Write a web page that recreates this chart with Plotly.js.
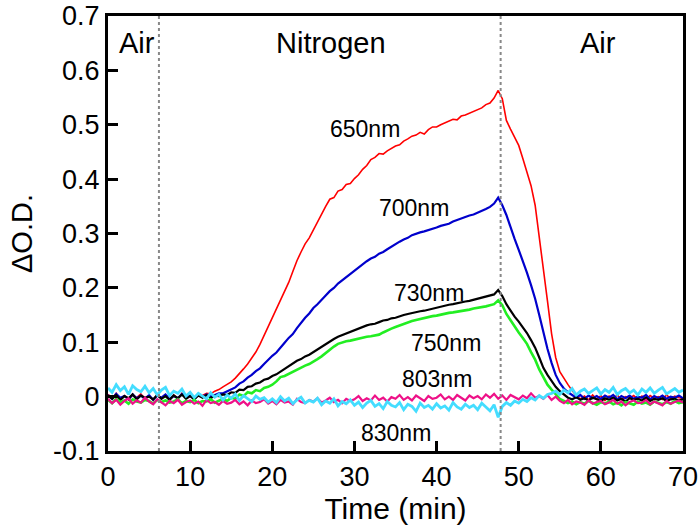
<!DOCTYPE html>
<html>
<head>
<meta charset="utf-8">
<script src="https://cdn.plot.ly/plotly-3.0.1.min.js"></script>
<style>html,body{margin:0;padding:0;background:#fff;}#chart{width:700px;height:531px;}</style>
</head>
<body>
<div id="chart"></div>
<script>
// Time axis (min)
const time = [
 0,0.5,1,1.5,2,2.5,3,3.5,4,4.5,
 5,5.5,6,6.5,7,7.5,8,8.5,9,9.5,
 10,10.5,11,11.5,12,12.5,13,13.5,14,14.5,
 15,15.5,16,16.5,17,17.5,18,18.5,19,19.5,
 20,20.5,21,21.5,22,22.5,23,23.5,24,24.5,
 25,25.5,26,26.5,27,27.5,28,28.5,29,29.5,
 30,30.5,31,31.5,32,32.5,33,33.5,34,34.5,
 35,35.5,36,36.5,37,37.5,38,38.5,39,39.5,
 40,40.5,41,41.5,42,42.5,43,43.5,44,44.5,
 45,45.5,46,46.5,47,47.5,48,48.5,49,49.5,
 50,50.5,51,51.5,52,52.5,53,53.5,54,54.5,
 55,55.5,56,56.5,57,57.5,58,58.5,59,59.5,
 60,60.5,61,61.5,62,62.5,63,63.5,64,64.5,
 65,65.5,66,66.5,67,67.5,68,68.5,69,69.5,
 70];

const od650 = [
 0.004,-0.003,0.006,-0.005,0.002,-0.006,0.003,-0.002,0.005,-0.004,
 0.001,-0.007,0.004,-0.003,0.002,-0.005,0.003,-0.004,0.006,-0.002,
 0.001,-0.003,0.004,0.002,0.006,0.005,0.010,0.013,0.018,0.022,
 0.027,0.034,0.042,0.051,0.060,0.070,0.082,0.096,0.112,0.128,
 0.145,0.160,0.177,0.193,0.210,0.230,0.250,0.266,0.281,0.292,
 0.307,0.322,0.337,0.350,0.363,0.366,0.378,0.381,0.390,0.392,
 0.401,0.408,0.418,0.425,0.436,0.440,0.447,0.446,0.452,0.457,
 0.461,0.463,0.470,0.474,0.479,0.481,0.486,0.483,0.491,0.496,
 0.496,0.500,0.503,0.506,0.510,0.509,0.516,0.518,0.521,0.524,
 0.527,0.531,0.537,0.540,0.549,0.563,0.548,0.508,0.492,0.478,
 0.462,0.438,0.412,0.388,0.352,0.290,0.228,0.176,0.116,0.072,
 0.046,0.033,0.022,0.011,0.002,-0.004,0.001,-0.006,0.003,-0.005,
 0.002,-0.007,0.001,-0.004,0.003,-0.006,0.000,-0.003,0.002,-0.005,
 0.001,-0.006,0.002,-0.003,0.000,-0.005,0.003,-0.004,0.001,-0.002,
 -0.003];

const od700 = [
 0.003,-0.004,0.005,-0.002,0.001,-0.005,0.004,-0.003,0.002,-0.004,
 0.003,-0.006,0.002,-0.002,0.004,-0.004,0.001,-0.003,0.005,-0.001,
 0.002,-0.004,0.003,0.000,0.004,0.001,0.003,0.006,0.006,0.010,
 0.013,0.017,0.024,0.028,0.035,0.040,0.047,0.052,0.060,0.068,
 0.075,0.081,0.091,0.099,0.108,0.115,0.126,0.136,0.145,0.153,
 0.163,0.170,0.179,0.186,0.194,0.200,0.208,0.214,0.219,0.226,
 0.232,0.237,0.243,0.249,0.254,0.257,0.263,0.266,0.271,0.276,
 0.280,0.285,0.289,0.292,0.297,0.300,0.302,0.304,0.306,0.309,
 0.311,0.314,0.316,0.318,0.322,0.325,0.327,0.330,0.333,0.335,
 0.338,0.341,0.345,0.349,0.355,0.366,0.352,0.334,0.310,0.290,
 0.270,0.250,0.228,0.205,0.180,0.150,0.116,0.088,0.062,0.040,
 0.025,0.015,0.008,0.003,-0.002,0.003,-0.004,0.002,-0.003,0.001,
 -0.004,0.002,-0.002,0.003,-0.005,0.001,-0.003,0.002,-0.004,0.000,
 -0.002,0.003,-0.005,0.001,-0.003,0.002,-0.004,0.000,-0.002,0.002,
 -0.003];

const od730 = [
 0.002,-0.004,0.003,-0.006,0.001,-0.003,0.004,-0.005,0.002,-0.002,
 0.000,-0.005,0.003,-0.004,0.001,-0.006,0.002,-0.003,0.004,-0.004,
 0.001,-0.005,0.002,-0.002,0.003,-0.003,0.002,0.001,0.004,0.003,
 0.008,0.007,0.013,0.012,0.018,0.019,0.024,0.026,0.031,0.033,
 0.038,0.041,0.046,0.051,0.056,0.060,0.066,0.069,0.074,0.077,
 0.082,0.087,0.091,0.097,0.101,0.106,0.110,0.113,0.117,0.120,
 0.123,0.126,0.128,0.131,0.133,0.134,0.137,0.140,0.141,0.144,
 0.145,0.148,0.150,0.152,0.154,0.156,0.157,0.158,0.160,0.162,
 0.164,0.165,0.167,0.169,0.170,0.172,0.173,0.175,0.176,0.178,
 0.179,0.181,0.183,0.185,0.188,0.196,0.185,0.170,0.158,0.147,
 0.138,0.128,0.117,0.104,0.090,0.072,0.053,0.040,0.028,0.018,
 0.010,0.004,-0.002,-0.005,-0.001,-0.006,-0.003,-0.007,-0.002,-0.005,
 -0.008,-0.003,-0.006,-0.002,-0.007,-0.004,-0.009,-0.003,-0.006,-0.004,
 -0.007,-0.002,-0.008,-0.004,-0.006,-0.003,-0.008,-0.005,-0.004,-0.007,
 -0.005];

const od750 = [
 -0.006,-0.012,-0.004,-0.010,-0.007,-0.013,-0.005,-0.009,-0.011,-0.006,
 -0.008,-0.013,-0.006,-0.010,-0.007,-0.011,-0.009,-0.005,-0.012,-0.008,
 -0.010,-0.006,-0.012,-0.008,-0.009,-0.005,-0.011,-0.007,-0.004,-0.008,
 -0.002,-0.004,0.004,0.001,0.008,0.006,0.012,0.010,0.016,0.018,
 0.022,0.028,0.036,0.038,0.042,0.046,0.050,0.053,0.057,0.060,
 0.064,0.069,0.074,0.080,0.087,0.092,0.097,0.100,0.102,0.103,
 0.105,0.107,0.108,0.110,0.111,0.113,0.114,0.118,0.122,0.125,
 0.128,0.131,0.133,0.136,0.139,0.141,0.143,0.144,0.146,0.148,
 0.149,0.151,0.152,0.154,0.155,0.156,0.158,0.159,0.160,0.162,
 0.163,0.165,0.166,0.168,0.170,0.177,0.168,0.152,0.140,0.128,
 0.118,0.108,0.097,0.082,0.068,0.050,0.035,0.022,0.013,0.004,
 -0.004,-0.008,-0.012,-0.009,-0.014,-0.010,-0.013,-0.008,-0.012,-0.015,
 -0.010,-0.013,-0.009,-0.014,-0.011,-0.016,-0.010,-0.012,-0.015,-0.009,
 -0.013,-0.011,-0.015,-0.009,-0.012,-0.014,-0.010,-0.013,-0.008,-0.012,
 -0.010];

const od803 = [
 -0.004,-0.012,-0.006,-0.015,-0.008,-0.003,-0.013,-0.007,-0.011,-0.002,
 -0.009,-0.014,-0.005,-0.011,-0.016,-0.008,-0.012,-0.006,-0.015,-0.010,
 -0.007,-0.013,-0.009,-0.017,-0.006,-0.012,-0.010,-0.015,-0.008,-0.013,
 -0.011,-0.006,-0.014,-0.009,-0.016,-0.007,-0.012,-0.010,-0.005,-0.013,
 -0.008,-0.014,-0.006,-0.011,-0.009,-0.015,-0.004,-0.010,-0.012,-0.006,
 -0.009,-0.003,-0.011,-0.007,-0.002,-0.010,-0.006,-0.012,-0.004,-0.008,
 -0.005,0.001,-0.008,-0.003,-0.007,0.002,-0.006,-0.002,-0.009,-0.001,
 -0.004,0.003,-0.006,-0.001,-0.007,0.002,-0.003,-0.008,0.001,-0.004,
 -0.002,0.004,-0.005,0.000,-0.006,0.003,-0.002,-0.007,0.002,-0.003,
 0.001,-0.005,0.004,-0.002,0.005,-0.004,0.002,-0.006,0.003,-0.001,
 -0.005,0.002,-0.003,0.006,-0.002,0.001,-0.004,0.003,-0.006,0.000,
 -0.008,-0.012,-0.006,-0.014,-0.009,-0.011,-0.015,-0.007,-0.013,-0.010,
 -0.008,-0.014,-0.011,-0.006,-0.013,-0.009,-0.016,-0.010,-0.007,-0.012,
 -0.011,-0.006,-0.014,-0.009,-0.012,-0.016,-0.008,-0.013,-0.010,-0.007,
 -0.011];

const od830 = [
 0.016,0.008,0.022,0.011,0.018,0.004,0.020,0.013,0.009,0.019,
 0.007,0.015,0.003,0.012,0.017,0.002,0.010,0.006,0.014,0.001,
 0.008,-0.002,0.006,0.001,-0.004,0.007,-0.001,0.004,-0.006,0.003,
 -0.003,0.005,-0.007,0.002,-0.004,-0.009,0.001,-0.005,-0.002,-0.010,
 -0.004,-0.011,0.000,-0.008,-0.003,-0.013,-0.006,-0.001,-0.012,-0.007,
 -0.010,-0.003,-0.015,-0.008,-0.012,-0.004,-0.017,-0.009,-0.013,-0.006,
 -0.016,-0.010,-0.020,-0.012,-0.007,-0.018,-0.013,-0.022,-0.009,-0.016,
 -0.019,-0.011,-0.024,-0.014,-0.018,-0.027,-0.012,-0.020,-0.016,-0.023,
 -0.013,-0.021,-0.017,-0.025,-0.011,-0.019,-0.023,-0.014,-0.020,-0.016,
 -0.024,-0.012,-0.019,-0.026,-0.015,-0.038,-0.018,-0.011,-0.016,-0.008,
 -0.012,-0.005,-0.009,-0.002,-0.006,0.002,-0.003,0.004,0.006,0.010,
 0.004,0.012,0.007,0.015,0.003,0.010,0.014,0.006,0.011,0.016,
 0.005,0.013,0.008,0.017,0.004,0.011,0.015,0.007,0.012,0.003,
 0.014,0.008,0.016,0.006,0.012,0.017,0.005,0.010,0.015,0.008,
 0.012];

const seriesNames = ['650nm','700nm','730nm','750nm','803nm','830nm'];
const seriesValues = [od650, od700, od730, od750, od803, od830];
const seriesColors = ['#ff0000','#0000cc','#000000','#22ee22','#ee1188','#44ddff'];
const seriesWidths = [1.6, 2.2, 2.2, 2.6, 2.2, 2.8];

// Label positions [x, y] in data units
const labelX = [31.3, 37.3, 39.1, 41.2, 40.1, 35.1];
const labelY = [0.493, 0.347, 0.191, 0.099, 0.033, -0.066];

const gasSwitchTimes = [6.2, 47.8];
const gasNames = ['Air', 'Nitrogen', 'Air'];
const gasLabelX = [3.5, 27.1, 59.6];
const gasLabelY = 0.651;

const yTickVals = [-0.1, 0, 0.1, 0.2, 0.3, 0.4, 0.5, 0.6, 0.7];
const yTickText = ['-0.1', '0', '0.1', '0.2', '0.3', '0.4', '0.5', '0.6', '0.7'];
const xTickVals = [0, 10, 20, 30, 40, 50, 60, 70];

const FONT = 'Liberation Sans, Arial, sans-serif';

const traces = seriesValues.map((vals, i) => ({
  x: time, y: vals, type: 'scatter', mode: 'lines', name: seriesNames[i],
  line: {color: seriesColors[i], width: seriesWidths[i]}, hoverinfo: 'skip'
}));

const annotations = [];
seriesNames.forEach((n, i) => annotations.push({
  x: labelX[i], y: labelY[i], xref: 'x', yref: 'y', text: n, showarrow: false,
  font: {family: FONT, size: 23, color: '#000'}
}));
gasNames.forEach((n, i) => annotations.push({
  x: gasLabelX[i], y: gasLabelY, xref: 'x', yref: 'y', text: n, showarrow: false,
  font: {family: FONT, size: 29, color: '#000'}
}));

const shapes = gasSwitchTimes.map(t => ({
  type: 'line', xref: 'x', yref: 'paper', x0: t, x1: t, y0: 0, y1: 1,
  line: {color: '#888888', width: 2, dash: 'dot'}
}));

const axisCommon = {
  showline: true, linewidth: 3, linecolor: '#000', mirror: true,
  ticks: 'inside', ticklen: 10, tickwidth: 3, tickcolor: '#000',
  showgrid: false, zeroline: false,
  tickfont: {family: FONT, size: 27, color: '#000'}
};

const layout = {
  width: 700, height: 531,
  margin: {l: 108, r: 17, t: 16, b: 80},
  paper_bgcolor: '#fff', plot_bgcolor: '#fff',
  showlegend: false,
  xaxis: Object.assign({}, axisCommon, {
    range: [0, 70], tickvals: xTickVals,
    title: {text: 'Time (min)', font: {family: FONT, size: 30, color: '#000'}, standoff: 6}
  }),
  yaxis: Object.assign({}, axisCommon, {
    range: [-0.1, 0.7], tickvals: yTickVals, ticktext: yTickText,
    title: {text: 'ΔO.D.', font: {family: FONT, size: 29, color: '#000'}, standoff: 12}
  }),
  annotations: annotations,
  shapes: shapes
};

Plotly.newPlot('chart', traces, layout, {staticPlot: true, displayModeBar: false});
</script>
</body>
</html>
